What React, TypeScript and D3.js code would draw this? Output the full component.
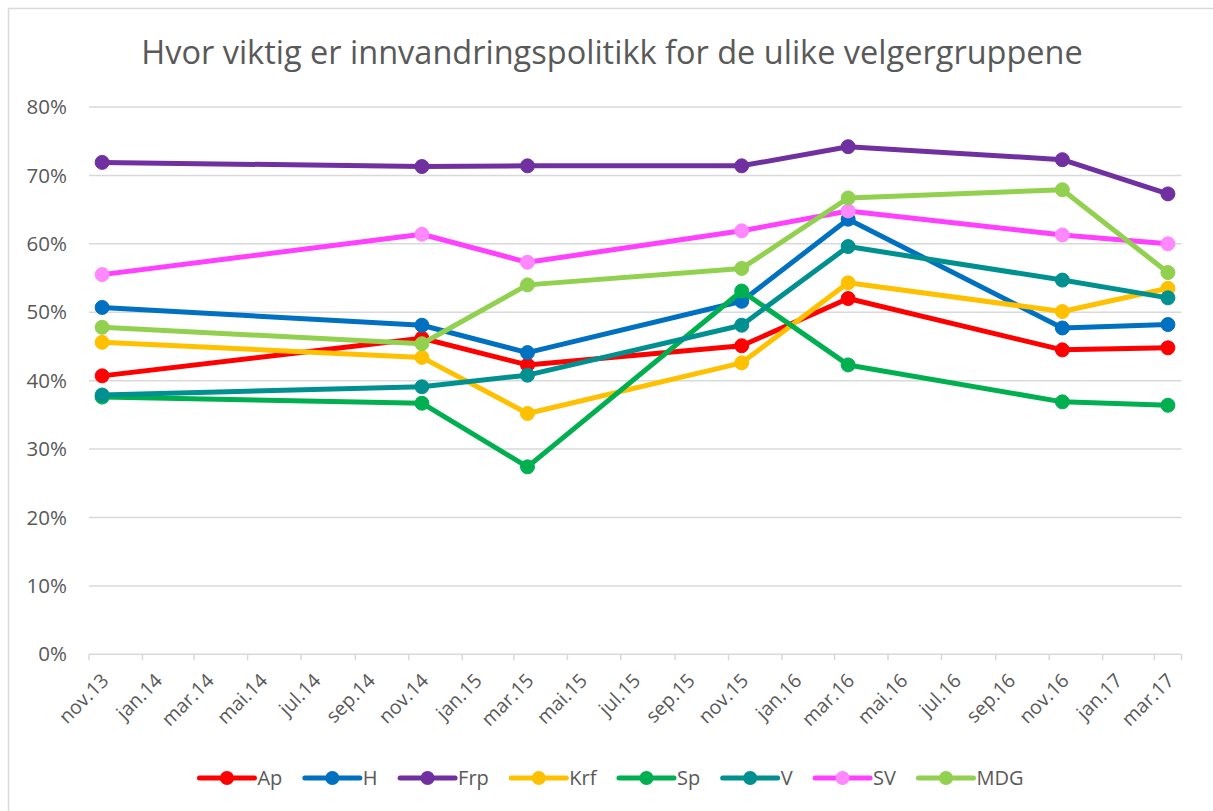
import React from "react";
import * as d3 from "d3";

const dates = ["2013-11", "2014-11", "2015-03", "2015-11", "2016-03", "2016-11", "2017-03"];
const seriesNames = ["Ap", "H", "Frp", "Krf", "Sp", "V", "SV", "MDG"];
const Ap = [40.7, 46.2, 42.3, 45.1, 52.0, 44.5, 44.8];
const H = [50.7, 48.1, 44.1, 51.6, 63.6, 47.7, 48.2];
const Frp = [71.9, 71.3, 71.4, 71.4, 74.2, 72.3, 67.3];
const Krf = [45.6, 43.4, 35.2, 42.6, 54.3, 50.1, 53.5];
const Sp = [37.6, 36.7, 27.4, 53.1, 42.3, 36.9, 36.4];
const V = [37.9, 39.1, 40.8, 48.1, 59.6, 54.7, 52.1];
const SV = [55.5, 61.4, 57.3, 61.9, 64.8, 61.3, 60.0];
const MDG = [47.8, 45.4, 54.0, 56.4, 66.7, 67.9, 55.8];
const seriesValues = [Ap, H, Frp, Krf, Sp, V, SV, MDG];
const monthAbbr = ["jan", "feb", "mar", "apr", "mai", "jun", "jul", "aug", "sep", "okt", "nov", "des"];
const yTicks = [0, 10, 20, 30, 40, 50, 60, 70, 80];
const title = "Hvor viktig er innvandringspolitikk for de ulike velgergruppene";

const lineColors = ["#FF0000", "#0070C0", "#7030A0", "#FFC000", "#00B050", "#009090", "#FF40FF", "#92D050"];
const markerColors = ["#FF0000", "#0070C0", "#7030A0", "#FFC000", "#00B050", "#009090", "#FF88FF", "#92D050"];

const FONT = "'Open Sans', 'Noto Sans', sans-serif";
const TEXT = "#595959";
const GRID = "#D9D9D9";

function parseMonth(s: string) {
  const [y, m] = s.split("-").map(Number);
  return new Date(y, m - 1, 1);
}

function measure(text: string, size: number) {
  if (typeof document === "undefined") return text.length * size * 0.55;
  const c = document.createElement("canvas").getContext("2d");
  if (!c) return text.length * size * 0.55;
  c.font = `${size}px 'Open Sans'`;
  return c.measureText(text).width;
}

export default function App() {
  const W = 1213, Hh = 811;
  const start = new Date(2013, 10, 1);
  const end = new Date(2017, 3, 1);
  const x = d3.scaleTime().domain([start, end]).range([89, 1181.5]);
  const y = d3.scaleLinear().domain([0, 80]).range([654.3, 107]);
  const xMid = (s: string) => {
    const d = parseMonth(s);
    const n = d3.timeMonth.offset(d, 1);
    return (x(d) + x(n)) / 2;
  };
  const ticks = d3.timeMonth.range(start, end, 2);
  const slot = x(d3.timeMonth.offset(start, 1)) - x(start);
  const line = d3.line<number>().x((_, i) => xMid(dates[i])).y((v) => y(v));

  const legendFont = 20;
  const lineLen = 55;
  const items = seriesNames.map((n) => ({ n, w: lineLen + 4 + measure(n, legendFont) }));
  const gap = 21.5;
  const total = d3.sum(items, (d) => d.w) + gap * (items.length - 1);
  let cx = 612 - total / 2;
  const legendY = 778;
  const legendPos = items.map((it) => {
    const p = cx;
    cx += it.w + gap;
    return p;
  });

  return (
    <svg width={W} height={Hh} style={{ position: "absolute", left: 0, top: 0, background: "#fff" }} fontFamily={FONT}>
      <rect x={8.5} y={8.5} width={1230} height={830} fill="#fff" stroke={GRID} strokeWidth={1.5} />
      <text x={612} y={64} textAnchor="middle" fontSize={32.5} fill={TEXT}>{title}</text>
      {yTicks.map((t) => (
        <g key={t}>
          <line x1={89} x2={1181.5} y1={y(t)} y2={y(t)} stroke={GRID} strokeWidth={1.5} />
          <text x={67} y={y(t)} dy="0.35em" textAnchor="end" fontSize={20.5} fill={TEXT}>{t}%</text>
        </g>
      ))}
      {ticks.concat([end]).map((d, i) => (
        <line key={"tk" + i} x1={x(d)} x2={x(d)} y1={y(0)} y2={y(0) + 6} stroke={GRID} strokeWidth={1.5} />
      ))}
      {ticks.map((d, i) => {
        const lx = x(d) + slot / 2 + 3;
        const ly = 677;
        const label = `${monthAbbr[d.getMonth()]}.${String(d.getFullYear()).slice(2)}`;
        return (
          <text key={"lb" + i} transform={`translate(${lx},${ly}) rotate(-45)`} textAnchor="end" dy="0.35em" fontSize={19.5} fill={TEXT}>
            {label}
          </text>
        );
      })}
      {seriesValues.map((vals, si) => (
        <g key={seriesNames[si]}>
          <path d={line(vals) || ""} fill="none" stroke={lineColors[si]} strokeWidth={5} strokeLinejoin="round" strokeLinecap="round" />
          {vals.map((v, i) => (
            <circle key={i} cx={xMid(dates[i])} cy={y(v)} r={7} fill={markerColors[si]} stroke={markerColors[si]} strokeWidth={1} />
          ))}
        </g>
      ))}
      {items.map((it, i) => (
        <g key={"lg" + i} transform={`translate(${legendPos[i]},${legendY})`}>
          <line x1={0} x2={lineLen} y1={0} y2={0} stroke={lineColors[i]} strokeWidth={5} strokeLinecap="round" />
          <circle cx={lineLen / 2} cy={0} r={7} fill={markerColors[i]} />
          <text x={lineLen + 3} y={0} dy="0.35em" fontSize={legendFont} fill={TEXT}>{it.n}</text>
        </g>
      ))}
    </svg>
  );
}
